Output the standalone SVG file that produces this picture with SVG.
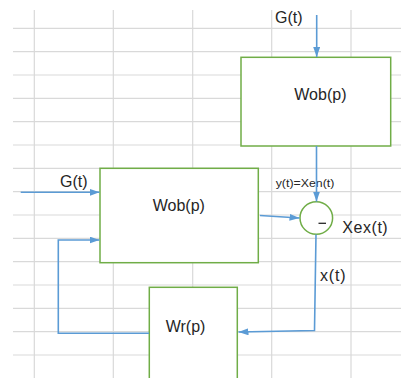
<svg xmlns="http://www.w3.org/2000/svg" width="401" height="378" viewBox="0 0 401 378">
  <style>
    .grid line { stroke: #d9d9d9; stroke-width: 1.2; }
    .box { fill: #ffffff; stroke: #70ad47; stroke-width: 1.5; }
    .lbl { font-family: "Liberation Sans", Arial, sans-serif; font-size: 16px; fill: #262626; }
    .small { font-family: "Liberation Sans", Arial, sans-serif; font-size: 11px; fill: #262626; }
    .conn { fill: none; stroke: #5b9bd5; stroke-width: 1.6; marker-end: url(#arr); }
  </style>
  <defs>
    <marker id="arr" markerUnits="userSpaceOnUse" markerWidth="11" markerHeight="8" refX="10" refY="3.5" orient="auto">
      <path d="M0,0 L10,3.5 L0,7 z" fill="#5b9bd5"/>
    </marker>
  </defs>
  <rect width="401" height="378" fill="#ffffff"/>
  <g class="grid">
    <line x1="13" y1="28.3" x2="401" y2="28.3"/>
    <line x1="13" y1="51.7" x2="401" y2="51.7"/>
    <line x1="13" y1="75" x2="401" y2="75"/>
    <line x1="13" y1="98.3" x2="401" y2="98.3"/>
    <line x1="13" y1="121.7" x2="401" y2="121.7"/>
    <line x1="13" y1="145" x2="401" y2="145"/>
    <line x1="13" y1="168.3" x2="401" y2="168.3"/>
    <line x1="13" y1="191.7" x2="401" y2="191.7"/>
    <line x1="13" y1="215" x2="401" y2="215"/>
    <line x1="13" y1="238.3" x2="401" y2="238.3"/>
    <line x1="13" y1="261.7" x2="401" y2="261.7"/>
    <line x1="13" y1="285" x2="401" y2="285"/>
    <line x1="13" y1="308.3" x2="401" y2="308.3"/>
    <line x1="13" y1="331.7" x2="401" y2="331.7"/>
    <line x1="13" y1="355" x2="401" y2="355"/>
    <line x1="34.3" y1="10" x2="34.3" y2="378"/>
    <line x1="113.3" y1="10" x2="113.3" y2="378"/>
    <line x1="192.7" y1="10" x2="192.7" y2="378"/>
    <line x1="271.7" y1="10" x2="271.7" y2="378"/>
    <line x1="351" y1="10" x2="351" y2="378"/>
  </g>
  <g id="wob-top">
    <rect class="box" x="241" y="57.3" width="149.7" height="88.7"/>
    <text class="lbl" x="294.3" y="100">Wob(p)</text>
  </g>
  <g id="wob-left">
    <rect class="box" x="100" y="168.3" width="158.3" height="94.4"/>
    <text class="lbl" x="152.7" y="210.5">Wob(p)</text>
  </g>
  <g id="sum">
    <circle cx="316.3" cy="218" r="16.3" fill="#ffffff" stroke="#70ad47" stroke-width="1.5"/>
    <line x1="318.5" y1="223.3" x2="326" y2="223.3" stroke="#262626" stroke-width="1.3"/>
  </g>
  <g id="wr">
    <rect class="box" x="149.3" y="287.3" width="88" height="100"/>
    <text class="lbl" x="165.7" y="331.7">Wr(p)</text>
  </g>
  <g id="labels">
    <text class="lbl" x="275" y="23.3">G(t)</text>
    <text class="lbl" x="60" y="186.7">G(t)</text>
    <text class="small" x="275.7" y="186.7" textLength="58.6" lengthAdjust="spacingAndGlyphs">y(t)=Xen(t)</text>
    <text class="lbl" x="342.3" y="233.3" textLength="45.4">Xex(t)</text>
    <text class="lbl" x="320" y="280.5" textLength="25.7">x(t)</text>
  </g>
  <g id="connectors">
    <path class="conn" d="M316.7,15 L316.7,57"/>
    <path class="conn" d="M316.5,146 L316.5,201.5"/>
    <path class="conn" d="M20.7,192.3 L99.5,192.3"/>
    <path class="conn" d="M260,215.5 L299.5,218"/>
    <path class="conn" d="M316,234.5 L314.5,330.5 L238.5,332"/>
    <path class="conn" d="M149,333.3 L58.3,333.3 L58.3,240 L99.5,240"/>
  </g>
</svg>
